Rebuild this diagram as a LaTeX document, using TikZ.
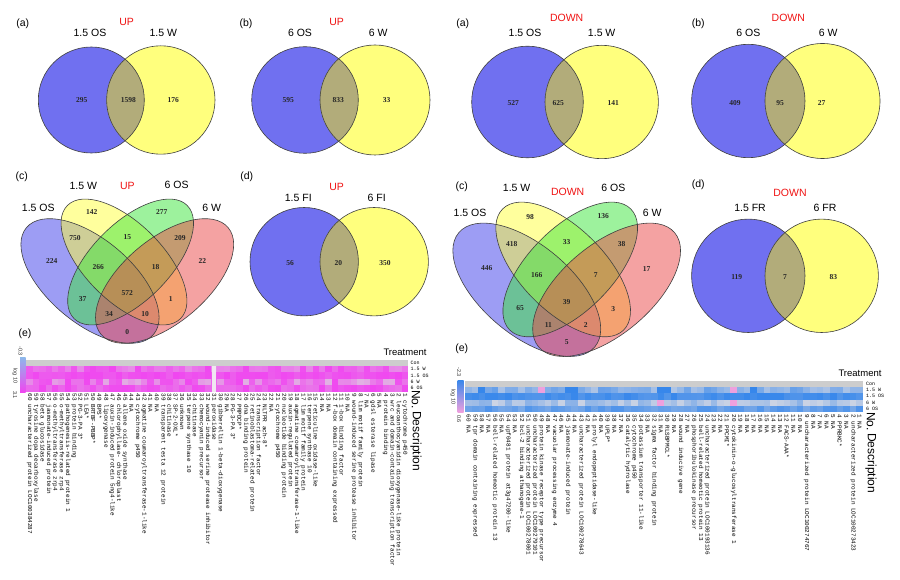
\documentclass[tikz,border=0pt]{standalone}
\usepackage{fontspec}
\setmainfont{Liberation Sans}
\setmonofont{Liberation Mono}
\newfontfamily\vnumfont{Liberation Serif}
\usetikzlibrary{positioning}
\definecolor{vennblue}{RGB}{112,112,240}
\definecolor{vennyellow}{RGB}{255,255,125}
\definecolor{vennlens}{RGB}{178,172,122}
\definecolor{quadblue}{RGB}{60,60,235}
\definecolor{quadyellow}{RGB}{255,255,60}
\definecolor{quadgreen}{RGB}{60,230,60}
\definecolor{quadred}{RGB}{235,70,70}
\definecolor{uphigh}{RGB}{240,70,240}
\definecolor{uplow}{RGB}{222,200,224}
\definecolor{dnhigh}{RGB}{55,135,235}
\definecolor{dnlow}{RGB}{205,212,228}
\definecolor{pinkcell}{RGB}{238,160,222}
\definecolor{barblue}{RGB}{140,185,235}
\definecolor{concolor}{RGB}{205,205,205}
\definecolor{titlered}{RGB}{240,20,20}

\begin{document}
\begin{tikzpicture}[
    x=1pt, y=-1pt,
    panelno/.style={font=\fontsize{10.5}{12}\selectfont, inner sep=0pt},
    setname/.style={font=\fontsize{10.5}{12}\selectfont, inner sep=0pt},
    dirname/.style={font=\fontsize{10.5}{12}\selectfont, text=titlered, inner sep=0pt},
    vennnum/.style={font=\vnumfont\bfseries\fontsize{7.5}{8}\selectfont, inner sep=0pt, text=black!85},
    vennline/.style={draw=black!75, line width=0.6pt},
    genename/.style={font=\ttfamily\fontsize{6}{6}\selectfont, rotate=-90, anchor=west, inner sep=0pt},
    rowname/.style={font=\ttfamily\fontsize{5}{5}\selectfont, anchor=west, inner sep=0pt},
    barname/.style={font=\fontsize{5.5}{6}\selectfont, rotate=-90, inner sep=0pt, text=black!80},
    axisname/.style={font=\fontsize{12}{13}\selectfont, rotate=-90, anchor=west, inner sep=0pt},
    trtname/.style={font=\fontsize{9.5}{11}\selectfont, inner sep=0pt}
]
    % Page
    \fill[white] (0,0) rectangle (900,580);
    \useasboundingbox (0,0) rectangle (900,580);

    % Two-set Venn diagrams
    \foreach \bx/\by/\br/\yx/\yy/\yr in {91.3/100/53/160.8/100/54.2, 305/100/53.3/375/100/55,
        527.5/102/55.8/601.7/102/56.7, 748.3/101/56.7/822.5/101/57.5,
        304.2/261.7/54.2/374.2/261.7/54.2, 748.3/275.8/56.7/821.7/275.8/56.7}{
        \fill[vennblue] (\bx,\by) circle (\br);
        \fill[vennyellow] (\yx,\yy) circle (\yr);
        \begin{scope}
            \clip (\bx,\by) circle (\br);
            \fill[vennlens] (\yx,\yy) circle (\yr);
        \end{scope}
        \draw[vennline] (\bx,\by) circle (\br);
        \draw[vennline] (\yx,\yy) circle (\yr);
    }

    % Four-set Venn diagrams
    \foreach \ox/\oy/\s in {127.3/264/1, 566.7/271.6/1.07}{
        \begin{scope}[shift={(\ox,\oy)}, scale=\s]
            \foreach \dx/\dy/\rot/\ra/\rb/\col in {-37.3/17/-40/83/42/quadblue, -3.3/-2/-45/80/39/quadyellow,
                3.3/-2/45/80/39/quadgreen, 37.3/17/40/83/42/quadred}{
                \begin{scope}[shift={(\dx,\dy)}, rotate=\rot]
                    \fill[\col, fill opacity=0.5] (0,0) ellipse [x radius=\ra, y radius=\rb];
                \end{scope}
            }
            \foreach \dx/\dy/\rot/\ra/\rb in {-37.3/17/-40/83/42, -3.3/-2/-45/80/39, 3.3/-2/45/80/39, 37.3/17/40/83/42}{
                \begin{scope}[shift={(\dx,\dy)}, rotate=\rot]
                    \draw[vennline] (0,0) ellipse [x radius=\ra, y radius=\rb];
                \end{scope}
            }
        \end{scope}
    }

    % Panel tags
    \foreach \x/\y/\t [count=\k] in {22.7/23.3/(a), 246/23.3/(b), 462.7/24/(a), 698.3/24/(b),
        21.7/176.7/(c), 246.7/176.7/(d), 461.7/186.7/(c), 698.3/185/(d), 25/334/(e), 461.7/348.3/(e)}
        \node[panelno] (tag\k) at (\x,\y) {\t};

    % Set names
    \foreach \x/\y/\t [count=\k] in {90/33.3/1.5 OS, 163.3/33.3/1.5 W, 300/33.3/6 OS, 378.3/33.3/6 W,
        525/33.3/1.5 OS, 601.7/33.3/1.5 W, 748.3/33.3/6 OS, 828.3/33.3/6 W,
        298.3/198.3/1.5 FI, 376.7/198.3/6 FI, 750/208.3/1.5 FR, 825/208.3/6 FR,
        38.3/208.3/1.5 OS, 83.3/186/1.5 W, 176.7/185/6 OS, 211.7/208.3/6 W,
        470/213.3/1.5 OS, 516.7/188.3/1.5 W, 613.3/188.3/6 OS, 652.3/213.3/6 W}
        \node[setname] (set\k) at (\x,\y) {\t};

    % UP / DOWN titles
    \foreach \x/\y/\t [count=\k] in {126.7/21.7/UP, 336.7/21.7/UP, 566.7/18.3/DOWN, 788.3/18.3/DOWN,
        127.3/186/UP, 336.7/186.7/UP, 567.7/192.3/DOWN, 790/193.3/DOWN}
        \node[dirname] (dir\k) at (\x,\y) {\t};

    % Counts, two-set diagrams
    \foreach \x/\y/\t [count=\k] in {81.7/100/295, 128.3/100/1598, 173.3/100/176,
        288.3/100/595, 338.3/100/833, 386.7/100/33,
        513.3/103.3/527, 558.3/103.3/625, 613.3/103.3/141,
        735/103.3/409, 780/103.3/95, 821.7/103.3/27,
        290/263.3/56, 338.3/263.3/20, 385/263.3/350,
        736.7/276.7/119, 785/276.7/7, 833.3/276.7/83}
        \node[vennnum] (two\k) at (\x,\y) {\t};

    % Counts, four-set diagrams
    \foreach \x/\y/\t [count=\k] in {91.7/212.3/142, 161.7/212.3/277, 75/238.3/750, 127.3/236.7/15,
        180/238.3/209, 51.7/261/224, 98.3/267.3/266, 155.7/267.3/18, 202.3/261/22,
        82.7/299.3/37, 127.3/293.3/572, 170.7/299.3/1, 109/314.3/34, 145/314.3/10, 127.3/332.3/0}
        \node[vennnum] (upq\k) at (\x,\y) {\t};
    \foreach \x/\y/\t [count=\k] in {530/216.7/98, 603.3/216/136, 511.7/244.3/418, 566.7/242.3/33,
        621.7/244.3/38, 486.7/268.3/446, 536.7/275/166, 595.7/275/7, 646.7/269.3/17,
        520/308.3/65, 566.7/301.7/39, 613.3/309/3, 548.3/325/11, 585.7/325/2, 566.7/342.3/5}
        \node[vennnum] (dnq\k) at (\x,\y) {\t};

    % Heatmap UP
    \pgfmathsetseed{12}
    \foreach \c in {1,...,60}{
        \pgfmathsetmacro\xl{408-\c*6.36}
        \fill[concolor] (\xl,359.5) rectangle ++(6.45,6.45);
        \foreach \r/\lo/\hi in {1/45/100, 2/80/100, 3/15/100, 4/65/100}{
            \pgfmathtruncatemacro\lev{\lo+(\hi-\lo)*rnd}
            \fill[uphigh!\lev!uplow] (\xl,{359.5+\r*6.4}) rectangle ++(6.45,6.45);
        }
    }
    \fill[uplow!45!white] ({408-31*6.36+1.5},365.9) rectangle ++(3.5,25.6);

    % Heatmap DOWN
    \foreach \c in {1,...,60}{
        \pgfmathsetmacro\xl{863-\c*6.63}
        \fill[concolor] (\xl,380.9) rectangle ++(6.7,6.3);
        \foreach \r/\lo/\hi in {1/20/70, 2/80/100, 3/0/45, 4/55/85}{
            \pgfmathtruncatemacro\lev{\lo+(\hi-\lo)*rnd}
            \fill[dnhigh!\lev!dnlow] (\xl,{380.9+\r*6.25}) rectangle ++(6.7,6.3);
        }
    }
    \foreach \c/\r/\col in {58/1/dnhigh, 45/1/dnhigh, 44/1/dnhigh, 31/1/dnhigh, 30/1/dnhigh, 17/1/dnhigh,
        49/1/pinkcell, 20/3/pinkcell, 31/3/pinkcell, 20/1/pinkcell}
        \fill[\col] ({863-\c*6.63},{380.9+\r*6.25}) rectangle ++(6.7,6.3);

    % Colour keys
    \shade[top color=barblue, middle color=black!10, bottom color=uphigh] (20,357) rectangle (25.5,392);
    \node[barname] (upmin) at (20.5,351) {-0.3};
    \node[barname] (uplog) at (15,376) {log 10};
    \node[barname] (upmax) at (15,395) {3.1};
    \shade[top color=dnhigh, middle color=black!10, bottom color=pinkcell] (457.5,380) rectangle (463.5,412);
    \node[barname] (dnmin) at (459,372) {-2.3};
    \node[barname] (dnlog) at (453,397) {log 10};
    \node[barname] (dnmax) at (459,419) {0.6};

    % Treatment rows
    \node[trtname] (uptrt) at (405,352) {Treatment};
    \node[trtname] (dntrt) at (860,373) {Treatment};
    \foreach \y/\t [count=\k] in {363/Con, 369/1.5 W, 375.5/1.5 OS, 382/6 W, 388/6 OS}
        \node[rowname] (uprow\k) at (410.5,\y) {\t};
    \foreach \y/\t [count=\k] in {384/Con, 390/1.5 W, 396/1.5 OS, 402.5/6 W, 409/6 OS}
        \node[rowname] (dnrow\k) at (866,\y) {\t};

    % Column headers
    \node[axisname] (upno) at (416,390) {No.};
    \node[axisname] (updesc) at (416,411) {Description};
    \node[axisname] (dnno) at (871,412) {No.};
    \node[axisname] (dndesc) at (871,433) {Description};

    % Gene labels UP
    \foreach \i/\t in {1/cytochrome p450, 2/leucoanthocyanidin dioxygenase-like protein,
        3/wrc and domain-containing transcription factor, 4/protein binding, 5/NA,
        6/gdsl esterase lipase, 7/NA, 8/lim motif family protein,
        9/wound-induced serine protease inhibitor, 10/NA, 11/1-box binding factor,
        12/f-box domain containing expressed, 13/NA, 14/NA, 15/reticuline oxidase-like,
        16/terpene synthase 10, 17/lim motif family protein, 18/agmatine coumaroyltransferase-1-like,
        19/auxin-regulated protein, 20/nucleotide binding protein, 21/cytochrome p450, 22/NA,
        23/NLTPR ach-8*, 24/transcription factor, 25/retinoblastoma-related protein,
        26/dna binding protein, 27/PRPDCP*, 28/PG-3-PA 3*, 29/NA, 30/gibberellin 1-beta-dioxygenase,
        31/peroxidase, 32/wound-induced serine protease inhibitor, 33/chemocyanin precursor,
        34/chitinase, 35/terpene synthase 10, 36/unknown, 37/SP-2-OXL*, 38/chitinase,
        39/transparent testa 12 protein, 40/NA, 41/NA, 42/agmatine coumaroyltransferase-1-like,
        43/cytochrome p450, 44/NA, 45/allene oxide synthase, 46/chlorophyllase- chloroplast,
        47/auxin-induced protein 5ng4-like, 48/lipoxygenase, 49/BPS*, 50/BRTBF-PBBP*, 51/LEA*,
        52/PG-3-PA 3*, 53/protein binding, 54/pathogenesis-related protein 1,
        55/o-methyltransferase zrp4, 56/o-methyltransferase zrp4, 57/jasmonate-induced protein,
        58/beta glucosidase, 59/tyrosine dopa decarboxylase, 60/uncharacterized protein LOC100384287}
        \node[genename] (upg\i) at ({408-(\i-0.5)*6.36},393.5) {\i\ \t};

    % Gene labels DOWN
    \foreach \i/\t in {1/NA, 2/uncharacterized protein LOC100273423, 3/NA, 4/PPRBKC*, 5/NA, 6/NA,
        7/NA, 8/NA, 9/uncharacterized protein LOC100274767, 10/NA, 11/NA, 12/FACS-AAA*, 13/NA,
        14/NA, 15/NA, 16/NA, 17/NA, 18/NA, 19/NA, 20/cytokinin-o-glucosyltransferase 1, 21/PPCMI*,
        22/NA, 23/NA, 24/uncharacterized protein LOC100193136, 25/bell-related homeotic protein 13,
        26/phosphoribulokinase precursor, 27/NA, 28/wound inducive gene, 29/NA, 30/RLSBPMCL*,
        31/NA, 32/sigma factor binding protein, 33/NA, 34/potassium transporter 11-like,
        35/cytochrome p450, 36/catalytic hydrolase, 37/NA, 38/NA, 39/UPLP*, 40/NA,
        41/prolyl endopeptidase-like, 42/NA, 43/uncharacterized protein LOC100278643, 44/NA,
        45/jasmonate-induced protein, 46/NA, 47/vacuolar processing enzyme 4, 48/NA,
        49/protein kinase receptor type precursor, 50/uncharacterized protein LOC100279101,
        51/uncharacterized protein LOC100278001, 52/bcl-2 binding athanogene-1, 53/NA,
        54/upf0481 protein at3g47200-like, 55/NA, 56/bell-related homeotic protein 13, 57/NA,
        58/NA, 59/tpr domain containing expressed, 60/NA}
        \node[genename] (dng\i) at ({863-(\i-0.5)*6.63},414.5) {\i\ \t};
\end{tikzpicture}
\end{document}
